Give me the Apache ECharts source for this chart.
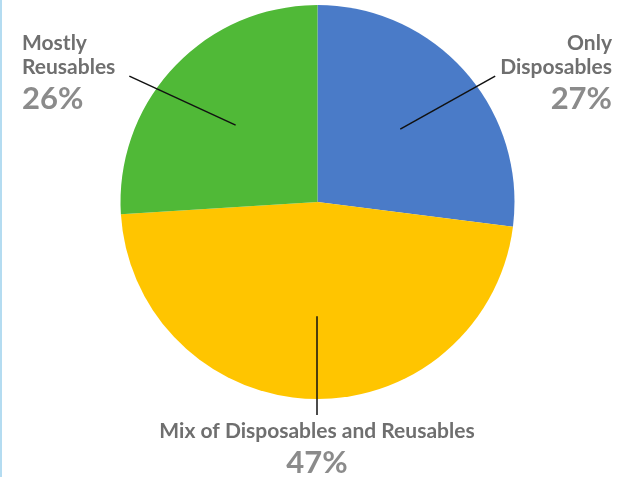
<!DOCTYPE html>
<html>
<head>
<meta charset="utf-8">
<script src="https://cdn.jsdelivr.net/npm/echarts@6/dist/echarts.min.js"></script>
<style>
  html, body { margin: 0; padding: 0; background: #ffffff; }
  #wrap { position: relative; width: 624px; height: 477px; }
  #chart { width: 624px; height: 477px; }
  #edge { position: absolute; left: 0; top: 0; width: 2px; height: 477px; background: #b4dcf1; }
</style>
</head>
<body>
<div id="wrap"><div id="chart"></div><div id="edge"></div></div>
<script>
const categories = ['Only\nDisposables', 'Mix of Disposables and Reusables', 'Mostly\nReusables'];
const values = [27, 47, 26];
const colors = ['#4a7bc8', '#ffc500', '#50b937'];

const CX = 317.5, CY = 202, R = 197;
const START = 90;
const total = values.reduce((a, b) => a + b, 0);

function midAngle(i) {
  let cum = 0;
  for (let k = 0; k < i; k++) cum += values[k];
  return START - 360 * (cum + values[i] / 2) / total;
}
function innerPoint(i, frac) {
  const a = midAngle(i) * Math.PI / 180;
  return [CX + R * frac * Math.cos(a), CY - R * frac * Math.sin(a)];
}

const labelPlace = [
  { x: 612, y: 31, align: 'right' },
  { x: 317, y: 419, align: 'center' },
  { x: 22, y: 31, align: 'left' }
];

const pieData = categories.map((c, i) => ({ name: c, value: values[i] }));

const chart = echarts.init(document.getElementById('chart'), null, { renderer: 'canvas' });
chart.setOption({
  animation: false,
  series: [{
    type: 'pie',
    center: [CX, CY],
    radius: R,
    startAngle: START,
    clockwise: true,
    silent: true,
    z: 2,
    data: pieData.map((d, i) => ({ name: d.name, value: d.value, itemStyle: { color: colors[i] } })),
    itemStyle: { borderWidth: 0 },
    label: { show: false },
    labelLine: { show: false }
  }, {
    type: 'pie',
    center: [CX, CY],
    radius: R,
    startAngle: START,
    clockwise: true,
    silent: true,
    z: 5,
    avoidLabelOverlap: false,
    data: pieData.map(d => ({ name: d.name, value: d.value, itemStyle: { color: 'rgba(0,0,0,0)' } })),
    itemStyle: { borderWidth: 0 },
    label: {
      show: true,
      position: 'outside',
      fontFamily: 'Lato',
      formatter: p => p.name.split('\n').map(s => '{n|' + s + '}').join('\n') + '\n{p|' + p.value + '%}',
      rich: {
        n: { fontFamily: 'Lato', fontWeight: 'bold', fontSize: 21, lineHeight: 24, color: '#6f6f6f' },
        p: { fontFamily: 'Lato', fontWeight: 'bold', fontSize: 31, lineHeight: 40, color: '#8b8b8b' }
      }
    },
    labelLine: { show: true, length: 10, length2: 0, lineStyle: { color: '#111111', width: 1.5 } },
    labelLayout: function (params) {
      const i = params.dataIndex;
      const pl = labelPlace[i];
      const w = params.labelRect.width, h = params.labelRect.height;
      let start, end;
      if (i === 0) {
        start = innerPoint(i, 0.56);
        end = [pl.x - w - 5, pl.y + h * 0.55];
      } else if (i === 2) {
        start = innerPoint(i, 0.57);
        end = [pl.x + w + 14, pl.y + h * 0.55];
      } else {
        end = [pl.x, pl.y - 4];
        start = [pl.x, innerPoint(i, 0.58)[1]];
      }
      return {
        x: pl.x, y: pl.y, align: pl.align, verticalAlign: 'top',
        labelLinePoints: [start, end]
      };
    }
  }]
});
</script>
</body>
</html>
